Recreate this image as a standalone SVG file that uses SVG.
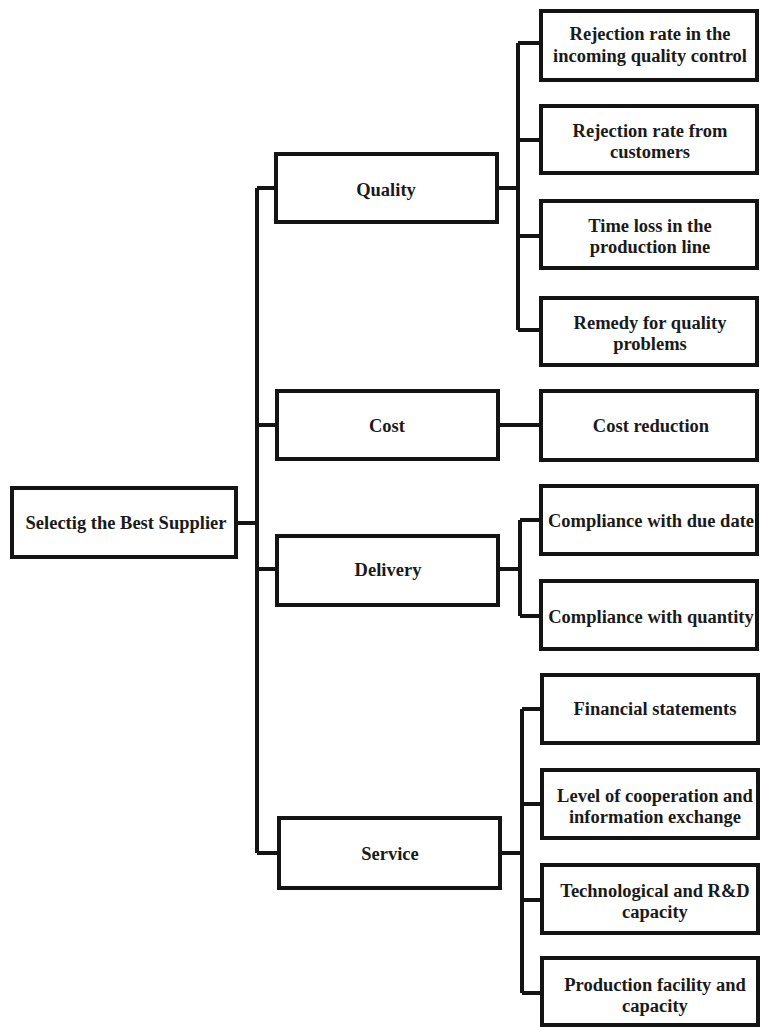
<svg xmlns="http://www.w3.org/2000/svg" width="760" height="1027" viewBox="0 0 760 1027">
<style>
.box{fill:#fff;stroke:#141414;stroke-width:4}
.t{font-family:"Liberation Serif","Times New Roman",serif;font-weight:bold;font-size:18.5px;fill:#1a1a1a;text-anchor:middle}
.c{fill:none;stroke:#141414;stroke-width:4}
</style>
<rect width="760" height="1027" fill="#fff"/>
<g id="connectors">
<path class="c" d="M236 523H257M257 188V853M257 188H276M257 425H276M257 569H276M257 853H278"/>
<path class="c" d="M497 188H518M518 43V330M518 43H541M518 140H541M518 236H541M518 330H541"/>
<path class="c" d="M498 425H541"/>
<path class="c" d="M498 569H520M520 520V616M520 520H541M520 616H541"/>
<path class="c" d="M500 853H522M522 709V993M522 709H542M522 804H542M522 900H542M522 993H542"/>
</g>
<g id="root"><rect class="box" x="12" y="488" width="224" height="69"/><text class="t" x="126" y="529">Selectig the Best Supplier</text></g>
<g id="quality"><rect class="box" x="276" y="154" width="221" height="68"/><text class="t" x="386" y="196">Quality</text></g>
<g id="cost"><rect class="box" x="277" y="391" width="221" height="68"/><text class="t" x="387" y="432">Cost</text></g>
<g id="delivery"><rect class="box" x="277" y="536" width="221" height="69"/><text class="t" x="388" y="576">Delivery</text></g>
<g id="service"><rect class="box" x="279" y="818" width="221" height="70"/><text class="t" x="390" y="860">Service</text></g>
<g id="q1"><rect class="box" x="541" y="11" width="216" height="69"/><text class="t" x="650" y="40">Rejection rate in the</text><text class="t" x="650" y="62">incoming quality control</text></g>
<g id="q2"><rect class="box" x="541" y="106" width="216" height="67"/><text class="t" x="650" y="137">Rejection rate from</text><text class="t" x="650" y="158">customers</text></g>
<g id="q3"><rect class="box" x="541" y="201" width="216" height="67"/><text class="t" x="650" y="232">Time loss in the</text><text class="t" x="650" y="253">production line</text></g>
<g id="q4"><rect class="box" x="541" y="298" width="216" height="67"/><text class="t" x="650" y="329">Remedy for quality</text><text class="t" x="650" y="350">problems</text></g>
<g id="c1"><rect class="box" x="541" y="391" width="216" height="69"/><text class="t" x="651" y="432">Cost reduction</text></g>
<g id="d1"><rect class="box" x="541" y="486" width="216" height="68"/><text class="t" x="651" y="527">Compliance with due date</text></g>
<g id="d2"><rect class="box" x="541" y="581" width="216" height="68"/><text class="t" x="651" y="623">Compliance with quantity</text></g>
<g id="s1"><rect class="box" x="542" y="675" width="216" height="68"/><text class="t" x="655" y="715">Financial statements</text></g>
<g id="s2"><rect class="box" x="542" y="770" width="216" height="68"/><text class="t" x="655" y="802">Level of cooperation and</text><text class="t" x="655" y="823">information exchange</text></g>
<g id="s3"><rect class="box" x="542" y="865" width="216" height="68"/><text class="t" x="655" y="897">Technological and R&amp;D</text><text class="t" x="655" y="918">capacity</text></g>
<g id="s4"><rect class="box" x="542" y="958" width="216" height="67"/><text class="t" x="655" y="991">Production facility and</text><text class="t" x="655" y="1012">capacity</text></g>
</svg>
